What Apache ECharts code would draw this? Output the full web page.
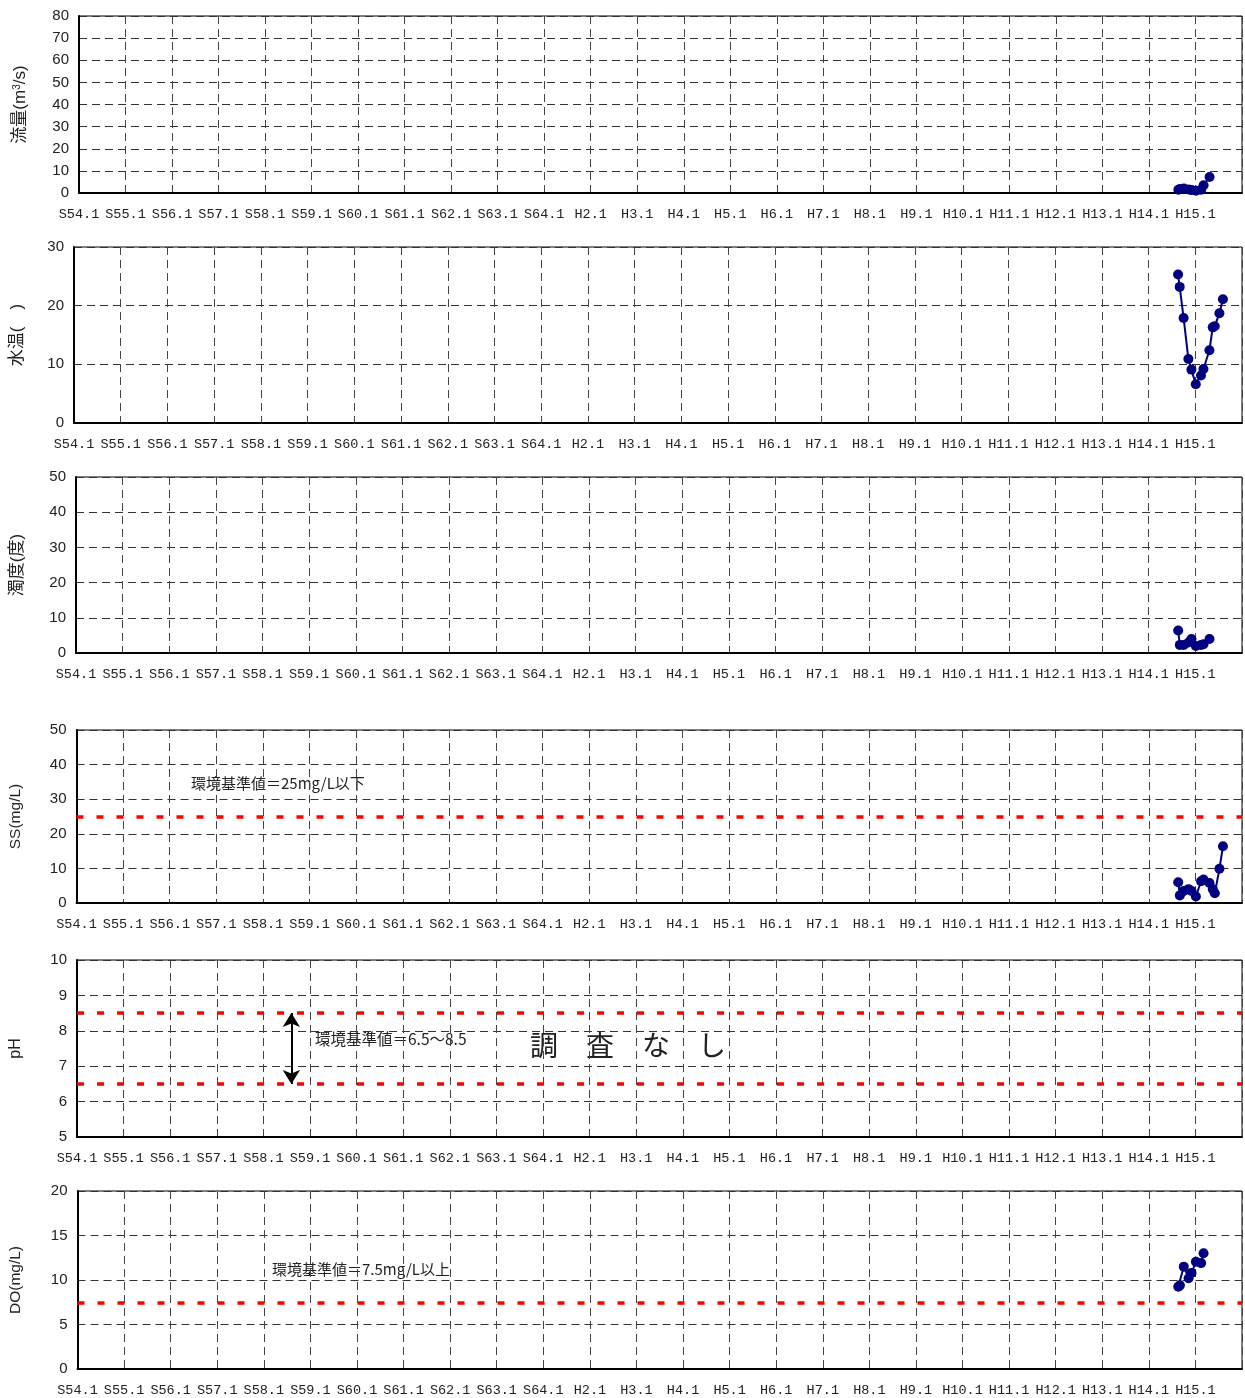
<!DOCTYPE html>
<html><head><meta charset="utf-8">
<script src="https://cdn.jsdelivr.net/npm/echarts@6/dist/echarts.min.js"></script>
<style>html,body{margin:0;padding:0;background:#fff}#c{width:1245px;height:1398px}</style>
</head><body><div id="c"></div>
<script>
// ---- data ----
const tickLabels = ['S54.1','S55.1','S56.1','S57.1','S58.1','S59.1','S60.1','S61.1','S62.1','S63.1','S64.1',
  'H2.1','H3.1','H4.1','H5.1','H6.1','H7.1','H8.1','H9.1','H10.1','H11.1','H12.1','H13.1','H14.1','H15.1'];
const startYear = 1979;
const sampleDates = ['2002-08-19','2002-09-01','2002-10-01','2002-11-08','2002-12-01','2003-01-05','2003-02-14',
  '2003-03-04','2003-04-20','2003-05-16','2003-06-01','2003-07-07','2003-08-04'];
const flowValues = [1.5, 1.8, 2.0, 1.6, 1.3, 1.0, 1.5, 3.5, 7.2, null, null, null, null];
const tempValues = [25.3, 23.2, 17.9, 10.9, 9.1, 6.6, 8.1, 9.2, 12.4, 16.3, 16.5, 18.7, 21.1];
const turbValues = [6.4, 2.3, 2.3, 3.0, 4.0, 2.0, 2.3, 2.5, 4.0, null, null, null, null];
const ssValues   = [6.0, 2.2, 3.5, 4.0, 3.5, 1.9, 6.3, 6.8, 5.8, 4.0, 2.8, 9.9, 16.4];
const doValues   = [9.25, 9.4, 11.5, 10.2, 10.8, 12.05, 11.9, 13.0, null, null, null, null, null];
const ssStandard = 25;
const phStandard = [8.5, 6.5];
const doStandard = 7.5;

// ---- helpers ----
function monthIndex(s){
  const [y,m,d] = s.split('-').map(Number);
  const dim = new Date(y, m, 0).getDate();
  return (y - startYear) * 12 + (m - 1) + (d - 1) / dim;
}
const xs = sampleDates.map(monthIndex);
function pairs(vals){ return vals.map((v,i)=>[xs[i], v]).filter(p=>p[1]!==null); }

const panels = [
  {top:16,  left:79, height:177, min:0, max:80, interval:10, name:'流量(m{sup|3}/s)', fs:17, gap:50, data:pairs(flowValues)},
  {top:247, left:74, height:176, min:0, max:30, interval:10, name:'水温(　)', fs:17, gap:48, data:pairs(tempValues)},
  {top:477, left:76, height:176, min:0, max:50, interval:10, name:'濁度(度)', fs:17, gap:50, data:pairs(turbValues)},
  {top:730, left:75, height:173, min:0, max:50, interval:10, name:'SS(mg/L)', fs:15.5, gap:53, data:pairs(ssValues), std:[ssStandard]},
  {top:960, left:75, height:177, min:5, max:10, interval:1, name:'pH', fs:16, gap:53, data:[], std:phStandard, arrow:true},
  {top:1191,left:76, height:178, min:0, max:20, interval:5, name:'DO(mg/L)', fs:15.5, gap:54, data:pairs(doValues), std:[doStandard]}
];

const RIGHT = 1;
const FONT = 'Liberation Sans, Arial, Noto Sans CJK JP, sans-serif';
const grids=[], xAxes=[], yAxes=[], series=[];
panels.forEach((p,i)=>{
  grids.push({left:p.left, top:p.top, height:p.height, right:RIGHT, show:true, borderColor:'#000', borderWidth:1, backgroundColor:'transparent'});
  xAxes.push({type:'value', gridIndex:i, min:0, max:300, interval:12,
    axisLine:{show:true, lineStyle:{color:'#000', width:2}}, axisTick:{show:false},
    splitLine:{show:true, lineStyle:{color:'#444', width:1, type:[8,5]}},
    axisLabel:{margin:14, color:'#222', fontSize:13.5, fontFamily:'Liberation Mono, DejaVu Sans Mono, monospace',
      formatter:v=>{const k=Math.round(v/12); return k<tickLabels.length?tickLabels[k]:'';}}});
  yAxes.push({type:'value', gridIndex:i, min:p.min, max:p.max, interval:p.interval,
    name:p.name, nameLocation:'middle', nameGap:p.gap,
    nameTextStyle:{fontSize:p.fs, color:'#222', fontFamily:FONT, rich:{sup:{fontSize:10, verticalAlign:'top', padding:[0,0,7,0], color:'#222'}}},
    axisLine:{show:true, lineStyle:{color:'#000', width:2}}, axisTick:{show:false},
    splitLine:{show:true, lineStyle:{color:'#333', width:1, type:[8,5]}},
    axisLabel:{margin:10, color:'#222', fontSize:15, fontFamily:FONT}});
  const s = {type:'line', xAxisIndex:i, yAxisIndex:i, data:p.data, symbol:'circle', symbolSize:10,
    itemStyle:{color:'#000080'}, lineStyle:{color:'#000080', width:2}, silent:true, animation:false, z:5};
  const ml = [];
  if(p.std){ p.std.forEach(v=>ml.push({yAxis:v, symbol:'none', lineStyle:{color:'#ff0000', width:3.5, type:[7,13]}, label:{show:false}})); }
  if(p.arrow){ ml.push([{coord:[55.2, phStandard[0]], symbol:'arrow', lineStyle:{color:'#000', width:2, type:'solid'}},
                       {coord:[55.2, phStandard[1]], symbol:'arrow'}]); }
  if(ml.length){ s.markLine = {silent:true, animation:false, symbol:['none','none'], symbolSize:[13,14], label:{show:false}, data:ml}; }
  series.push(s);
});

const txt = (x,y,t,fs)=>({type:'text', left:x, top:y, style:{text:t, fill:'#222', font:(fs||14)+'px "Noto Sans CJK JP", sans-serif'}});
const option = {
  animation:false,
  grid:grids, xAxis:xAxes, yAxis:yAxes, series:series,
  graphic:[
    txt(191, 776, '環境基準値＝25mg/L以下', 15),
    txt(315, 1031, '環境基準値＝6.5～8.5', 15.5),
    txt(530, 1031, '調　査　な　し', 28),
    txt(272, 1262, '環境基準値＝7.5mg/L以上', 15)
  ]
};
const chart = echarts.init(document.getElementById('c'), null, {renderer:'canvas'});
chart.setOption(option);
</script></body></html>
